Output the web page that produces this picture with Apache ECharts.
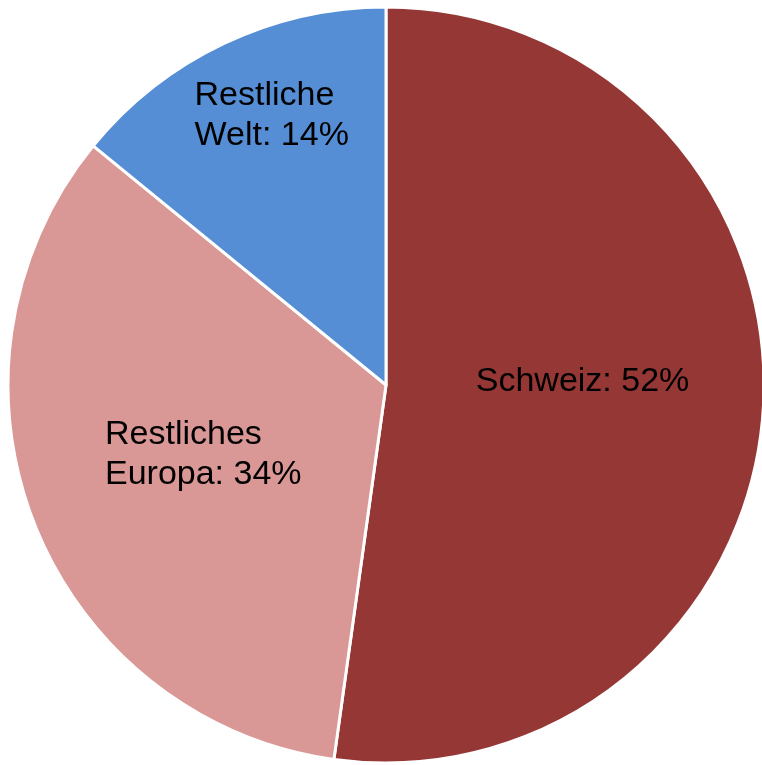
<!DOCTYPE html>
<html>
<head>
<meta charset="utf-8">
<script src="https://cdn.jsdelivr.net/npm/echarts@6/dist/echarts.min.js"></script>
<style>
html,body{margin:0;padding:0;background:#fff;}
#chart{width:762px;height:765px;}
</style>
</head>
<body>
<div id="chart"></div>
<script>
var categories = ['Schweiz', 'Restliches\nEuropa', 'Restliche\nWelt'];
var values = [52.2, 33.7, 14.1];
var colors = ['#953735', '#D99795', '#558ED5'];
var labelShift = [[5, -17], [-4, 0], [-32, -96]];

var chart = echarts.init(document.getElementById('chart'), null, {renderer: 'canvas'});
chart.setOption({
  animation: false,
  backgroundColor: '#ffffff',
  series: [{
    type: 'pie',
    center: [386, 385],
    radius: 378,
    startAngle: 90,
    clockwise: true,
    data: categories.map(function (c, i) {
      return {name: c, value: values[i], itemStyle: {color: colors[i]}};
    }),
    itemStyle: {borderColor: '#ffffff', borderWidth: 3},
    label: {
      show: true,
      position: 'inside',
      formatter: function (p) {
        var txt = p.name + ': ' + Math.round(p.percent) + '%';
        return txt.split('\n').map(function (l) { return '{t|' + l + '}'; }).join('\n');
      },
      rich: {
        t: {fontFamily: 'Liberation Sans, Arial, sans-serif', fontSize: 34, lineHeight: 40, color: '#000000', align: 'left'}
      }
    },
    labelLine: {show: false},
    labelLayout: function (params) {
      var s = labelShift[params.dataIndex];
      return {dx: s[0], dy: s[1]};
    },
    emphasis: {disabled: true}
  }]
});
</script>
</body>
</html>
